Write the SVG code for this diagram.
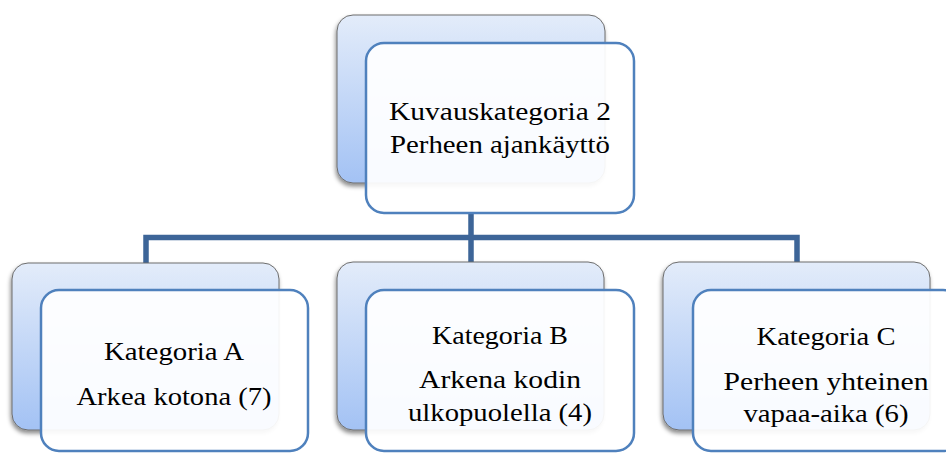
<svg xmlns="http://www.w3.org/2000/svg" width="946" height="453" viewBox="0 0 946 453">
<defs>
<linearGradient id="bg" x1="0" y1="0" x2="0" y2="1">
<stop offset="0" stop-color="#e3ecfa"/>
<stop offset="1" stop-color="#a3c2f4"/>
</linearGradient>
<filter id="sh" x="-10%" y="-10%" width="120%" height="125%">
<feDropShadow dx="-1" dy="3" stdDeviation="2" flood-color="#000" flood-opacity="0.45"/>
</filter>
</defs>
<style>
.back{fill:url(#bg);stroke:#6d6d6d;stroke-width:1;filter:url(#sh)}
.front{fill:#ffffff;fill-opacity:0.93;stroke:#4f81bd;stroke-width:2.5}
.conn{fill:none;stroke:#3d6598;stroke-width:5.5;stroke-linejoin:miter}
text{font-family:"Liberation Serif","DejaVu Serif",serif;font-size:25px;fill:#000;text-anchor:middle}
</style>
<g id="connectors">
<path class="conn" d="M471 213 V263 M146 263 V237.5 H797 V263"/>
</g>
<g id="node-top">
<rect class="back" x="337" y="15" width="268" height="168" rx="16"/>
<rect class="front" x="366" y="43" width="268" height="170" rx="18"/>
<text x="500" y="120" textLength="222" lengthAdjust="spacingAndGlyphs">Kuvauskategoria 2</text>
<text x="500" y="153" textLength="220" lengthAdjust="spacingAndGlyphs">Perheen ajankäyttö</text>
</g>
<g id="node-a">
<rect class="back" x="12" y="263" width="267" height="167" rx="16"/>
<rect class="front" x="41" y="290" width="267" height="161" rx="18"/>
<text x="174" y="360" textLength="140" lengthAdjust="spacingAndGlyphs">Kategoria A</text>
<text x="174" y="405" textLength="195" lengthAdjust="spacingAndGlyphs">Arkea kotona (7)</text>
</g>
<g id="node-b">
<rect class="back" x="337" y="262" width="267" height="168" rx="16"/>
<rect class="front" x="366" y="290" width="268" height="161" rx="18"/>
<text x="500" y="344" textLength="136" lengthAdjust="spacingAndGlyphs">Kategoria B</text>
<text x="500" y="388" textLength="162" lengthAdjust="spacingAndGlyphs">Arkena kodin</text>
<text x="500" y="421" textLength="184" lengthAdjust="spacingAndGlyphs">ulkopuolella (4)</text>
</g>
<g id="node-c">
<rect class="back" x="663" y="262" width="267" height="168" rx="16"/>
<rect class="front" x="693" y="290" width="268" height="161" rx="18"/>
<text x="826" y="345" textLength="139" lengthAdjust="spacingAndGlyphs">Kategoria C</text>
<text x="826" y="390" textLength="205" lengthAdjust="spacingAndGlyphs">Perheen yhteinen</text>
<text x="826" y="422" textLength="165" lengthAdjust="spacingAndGlyphs">vapaa-aika (6)</text>
</g>
</svg>
